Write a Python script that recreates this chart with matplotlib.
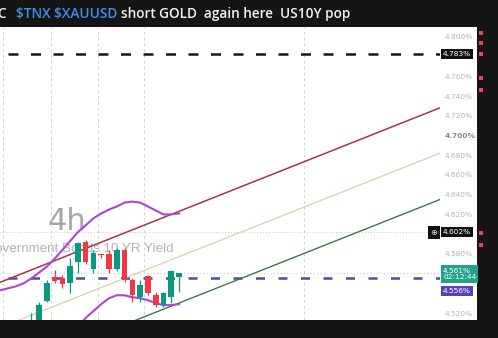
import numpy as np
import matplotlib.pyplot as plt
from matplotlib.patches import Rectangle
from matplotlib import transforms

# 4h candles, US10Y yield (%)
idx = list(range(-1, 19))
opens = [4.500, 4.510, 4.532, 4.5565, 4.5555, 4.5504, 4.5717, 4.592, 4.5646, 4.5798,
         4.5799, 4.5646, 4.5839, 4.5535, 4.5362, 4.5575, 4.5383, 4.5281, 4.5362, 4.557]
highs = [4.520, 4.531, 4.553, 4.5636, 4.5586, 4.5758, 4.592, 4.594, 4.5839, 4.580,
         4.5839, 4.586, 4.586, 4.5555, 4.5535, 4.5586, 4.5413, 4.5413, 4.5636, 4.561]
lows = [4.496, 4.505, 4.531, 4.5504, 4.5454, 4.5403, 4.5606, 4.5697, 4.5606, 4.576,
        4.5606, 4.5626, 4.5515, 4.5312, 4.5312, 4.5383, 4.5261, 4.5261, 4.5301, 4.5413]
closes = [4.512, 4.528, 4.550, 4.5525, 4.5494, 4.5677, 4.591, 4.5717, 4.5809, 4.579,
          4.5646, 4.5839, 4.5535, 4.5383, 4.5484, 4.5403, 4.5281, 4.5403, 4.5626, 4.561]

# Bollinger bands
bb_up_x = list(range(-5, 19))
bb_up = [4.543, 4.545, 4.547, 4.550, 4.555, 4.561, 4.567, 4.575, 4.584, 4.593, 4.602, 4.609,
         4.616, 4.621, 4.625, 4.628, 4.632, 4.633, 4.632, 4.628, 4.624, 4.620, 4.620, 4.621]
bb_lo_x = list(range(4, 19))
bb_lo = [4.497, 4.506, 4.515, 4.522, 4.529, 4.535, 4.538, 4.538, 4.536, 4.535,
         4.533, 4.530, 4.528, 4.528, 4.529]

# parallel channel
chan_x = [-6, 51.5]
chan_top = [4.548, 4.728]
chan_mid = [4.502, 4.682]
chan_bot = [4.455, 4.635]

# horizontal levels
short_level = 4.783
entry_level = 4.556
ref_level = 4.602
last_price = 4.561
session_breaks = [-4.6, 1.5, 7.55, 13.5, 34.0]
price_ticks = [4.52, 4.58, 4.62, 4.64, 4.66, 4.68, 4.70, 4.72, 4.74, 4.76, 4.80]
alert_prices = [4.804, 4.794, 4.783, 4.758, 4.746, 4.601, 4.589]

GREEN = '#089981'
RED = '#f23645'
BG = '#151515'

W, H = 498, 338
fig = plt.figure(figsize=(W / 100, H / 100), dpi=100, facecolor=BG)

# white chart panel incl. price scale
fig.patches.append(Rectangle((0, 18 / H), 477 / W, 293 / H, transform=fig.transFigure,
                             facecolor='white', edgecolor='none', zorder=-10))

ax = fig.add_axes([0, 18 / H, 440 / W, 293 / H])
ax.set_zorder(1)
ax.set_facecolor('white')
for s in ax.spines.values():
    s.set_visible(False)
ax.set_xlim(-5.013, 51.54)
ax.set_ylim(4.5129, 4.8101)

# vertical session separators as x grid
ax.set_xticks(session_breaks)
ax.tick_params(axis='x', length=0, labelbottom=False)
ax.grid(axis='x', color='#d4d4d4', linestyle=(0, (3, 3)), linewidth=0.7)

# price scale
ax.yaxis.tick_right()
ax.set_yticks(price_ticks)
ax.set_yticklabels([f'{p:.3f}%' for p in price_ticks])
ax.tick_params(axis='y', length=0, pad=3.5, labelsize=5.3, labelcolor='#b4b4b4')
for lab in ax.get_yticklabels():
    if lab.get_text() == '4.700%':
        lab.set_color('#8a8a8a')
        lab.set_fontweight('bold')

# watermark
ax.text(67 / 440, (320 - 221) / 293, '4h', transform=ax.transAxes, fontsize=22,
        color='#a6a6a6', ha='center', va='center', zorder=1)
ax.text(173 / 440, (320 - 252) / 293, 'U.S. Government Bonds 10 YR Yield', transform=ax.transAxes,
        fontsize=9.6, color='#b3b3b3', ha='right', va='baseline', zorder=1,
        family=['Liberation Sans', 'DejaVu Sans'])

# levels
ax.axhline(ref_level, color='#c4c4c4', linestyle=(0, (1, 2)), linewidth=0.7, zorder=2)
ax.axhline(last_price, color='#b9d6cd', linestyle=(0, (1, 2)), linewidth=0.8, zorder=2)
ax.hlines(short_level, -4.0, 51.54, color='#161616', linestyle=(0, (4, 5)), linewidth=1.8, zorder=3)
ax.hlines(entry_level, -4.0, 51.54, color='#4a4d9a', linestyle=(0, (3.6, 5.4)), linewidth=1.8, zorder=3)

# channel
ax.plot(chan_x, chan_top, color='#a8344a', linewidth=1.1, zorder=3)
ax.plot(chan_x, chan_mid, color='#d9d0ad', linewidth=0.9, zorder=3)
ax.plot(chan_x, chan_bot, color='#3c7a48', linewidth=1.0, zorder=3)

# bollinger
ax.plot(bb_up_x, bb_up, color='#b044d8', linewidth=1.5, zorder=4, solid_joinstyle='round')
ax.plot(bb_lo_x, bb_lo, color='#b044d8', linewidth=1.5, zorder=4, solid_joinstyle='round')

# candles
cols = [GREEN if c >= o else RED for o, c in zip(opens, closes)]
ax.vlines(idx, lows, highs, colors=cols, linewidth=0.9, zorder=5)
bottoms = [min(o, c) for o, c in zip(opens, closes)]
heights = [max(abs(c - o), 0.0008) for o, c in zip(opens, closes)]
ax.bar(idx, heights, bottom=bottoms, width=0.72, color=cols, zorder=6)

# price boxes on the scale
bt = transforms.blended_transform_factory(ax.transAxes, ax.transData)
box_kw = dict(transform=bt, fontsize=5.3, color='white', va='center', ha='left',
              clip_on=False, zorder=10)
ax.text(1.0 + 3 / 440, short_level, f'{short_level:.3f}%',
        bbox=dict(boxstyle='square,pad=0.25', fc='#111111', ec='none'), **box_kw)
ax.text(1.0 + 3 / 440, ref_level, f'{ref_level:.3f}%',
        bbox=dict(boxstyle='square,pad=0.25', fc='#111111', ec='none'), **box_kw)
ax.text(1.0 - 6 / 440, ref_level, '\u2295', transform=bt, fontsize=6, color='#dddddd',
        va='center', ha='center', clip_on=False, zorder=10,
        bbox=dict(boxstyle='square,pad=0.25', fc='#111111', ec='none'))
ax.annotate(f'{last_price:.3f}%\n02:12:44', (1.0 + 3 / 440, last_price), xycoords=bt,
            xytext=(0, 3.6), textcoords='offset points', fontsize=5.3, color='white',
            va='top', ha='left', linespacing=1.15, annotation_clip=False, zorder=10,
            bbox=dict(boxstyle='square,pad=0.3', fc='#22a28d', ec='none'))
ax.annotate(f'{entry_level:.3f}%', (1.0 + 3 / 440, entry_level), xycoords=bt,
            xytext=(0, -9.8), textcoords='offset points', fontsize=5.3, color='white',
            va='center', ha='left', annotation_clip=False, zorder=11,
            bbox=dict(boxstyle='square,pad=0.25', fc='#5b3fbf', ec='none'))

# alert flags in the right strip
ax2 = fig.add_axes([479 / W, 18 / H, 4 / W, 293 / H], sharey=ax)
ax2.set_axis_off()
ax2.set_xlim(0, 1)
ax2.bar([0.5] * len(alert_prices), [0.004] * len(alert_prices),
        bottom=[p - 0.002 for p in alert_prices], width=0.8, color='#e0465e')

# title bar
tkw = dict(fontsize=9.8, fontweight='semibold', va='center', parse_math=False,
           family=['Open Sans', 'DejaVu Sans'])
fig.text(-3 / W, 1 - 14 / H, 'C', color='#e8e8e8', **tkw)
t1 = fig.text(16 / W, 1 - 14 / H, '$TNX $XAUUSD', color='#3f8fe8', **tkw)
fig.canvas.draw()
bb = t1.get_window_extent()
fig.text((bb.x1 + 4) / W, 1 - 14 / H, 'short GOLD  again here  US10Y pop',
         color='#f2f2f2', **tkw)

fig.savefig('out.png', dpi=100, facecolor=BG)
